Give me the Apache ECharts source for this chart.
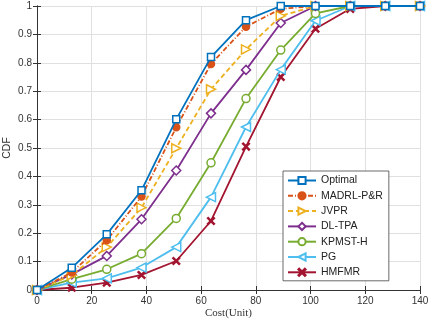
<!DOCTYPE html>
<html>
<head>
<meta charset="utf-8">
<script src="https://cdn.jsdelivr.net/npm/echarts@6/dist/echarts.min.js"></script>
<style>
html, body { margin: 0; padding: 0; background: #fff; }
#chart { width: 429px; height: 322px; }
</style>
</head>
<body>
<div id="chart"></div>
<script>
// cost points on the x axis
var costs = [0, 12.7, 25.5, 38.2, 50.9, 63.6, 76.4, 89.1, 101.8, 114.5, 127.3, 140];

// CDF values per method
var optimal = [0, 0.078, 0.196, 0.351, 0.601, 0.82, 0.95, 1, 1, 1, 1, 1];
var madrl   = [0, 0.062, 0.175, 0.329, 0.573, 0.796, 0.927, 0.99, 1, 1, 1, 1];
var jvpr    = [0, 0.052, 0.151, 0.29, 0.499, 0.707, 0.847, 0.965, 1, 1, 1, 1];
var dltpa   = [0, 0.055, 0.12, 0.249, 0.421, 0.622, 0.775, 0.94, 1, 1, 1, 1];
var kpmst   = [0, 0.038, 0.073, 0.128, 0.252, 0.448, 0.674, 0.845, 0.974, 1, 1, 1];
var pg      = [0, 0.026, 0.041, 0.079, 0.151, 0.327, 0.574, 0.776, 0.948, 1, 1, 1];
var hmfmr   = [0, 0.008, 0.026, 0.053, 0.102, 0.243, 0.505, 0.75, 0.92, 0.99, 1, 1];

var names = ['Optimal', 'MADRL-P&R', 'JVPR', 'DL-TPA', 'KPMST-H', 'PG', 'HMFMR'];
var values = [optimal, madrl, jvpr, dltpa, kpmst, pg, hmfmr];
var colors = ['#0072BD', '#D95319', '#EDB120', '#7E2F8E', '#77AC30', '#4DBEEE', '#A2142F'];

var crossPath = 'path://M0,1L1,0L5,4L9,0L10,1L6,5L10,9L9,10L5,6L1,10L0,9L4,5Z';
var styles = [
    { symbol: 'rect', size: 7, fill: '#fff', dash: 'solid', rotate: 0 },
    { symbol: 'circle', size: 7, fill: null, dash: [5, 2, 1, 2], rotate: 0 },
    { symbol: 'triangle', size: 9, fill: '#fff', dash: [5, 3], rotate: -90 },
    { symbol: 'diamond', size: 9, fill: '#fff', dash: 'solid', rotate: 0 },
    { symbol: 'circle', size: 8, fill: '#fff', dash: 'solid', rotate: 0 },
    { symbol: 'triangle', size: 9, fill: '#fff', dash: 'solid', rotate: 90 },
    { symbol: crossPath, size: 7, fill: null, dash: 'solid', rotate: 0 }
];

var font = 'Liberation Sans, Arial, sans-serif';

var series = [];
for (var i = 0; i < names.length; i++) {
    var pts = [];
    for (var j = 0; j < costs.length; j++) {
        pts.push([costs[j], values[i][j]]);
    }
    var st = styles[i];
    series.push({
        name: names[i],
        type: 'line',
        data: pts,
        symbol: st.symbol,
        symbolSize: st.size,
        symbolRotate: st.rotate,
        showAllSymbol: true,
        z: 10 - i,
        lineStyle: { color: colors[i], width: 1.8, type: st.dash },
        itemStyle: {
            color: st.fill || colors[i],
            borderColor: colors[i],
            borderWidth: 1.5
        },
        emphasis: { disabled: true }
    });
}

var chart = echarts.init(document.getElementById('chart'));
chart.setOption({
    animation: false,
    grid: { left: 37, right: 9, top: 6, bottom: 32, outerBoundsMode: 'none', containLabel: false },
    legend: {
        data: names,
        orient: 'vertical',
        left: 283,
        top: 171,
        width: 98,
        itemWidth: 28,
        itemHeight: 9,
        itemGap: 4.3,
        padding: [4, 6, 3, 4],
        backgroundColor: '#fff',
        borderColor: '#444',
        borderWidth: 0.8,
        textStyle: { fontFamily: font, fontSize: 10.5, color: '#222' }
    },
    xAxis: [{
        type: 'value',
        min: 0, max: 140, interval: 20,
        name: 'Cost(Unit)',
        nameLocation: 'middle',
        nameGap: 18,
        nameMoveOverlap: false,
        nameTextStyle: { fontFamily: 'Liberation Serif, serif', fontSize: 11, color: '#333' },
        axisLine: { lineStyle: { color: '#333', width: 1 } },
        axisTick: { inside: true, length: 4, lineStyle: { color: '#333' } },
        axisLabel: { fontFamily: font, fontSize: 10, color: '#333', margin: 6 },
        splitLine: { show: true, lineStyle: { color: '#e0e0e0', width: 1 } }
    }, {
        type: 'value', position: 'top',
        min: 0, max: 140, interval: 20,
        axisLine: { lineStyle: { color: '#333', width: 1 } },
        axisTick: { inside: true, length: 4, lineStyle: { color: '#333' } },
        axisLabel: { show: false },
        splitLine: { show: false }
    }],
    yAxis: [{
        type: 'value',
        min: 0, max: 1, interval: 0.1,
        name: 'CDF',
        nameLocation: 'middle',
        nameGap: 24,
        nameMoveOverlap: false,
        nameTextStyle: { fontFamily: font, fontSize: 10.5, color: '#333' },
        axisLine: { show: true, lineStyle: { color: '#333', width: 1 } },
        axisTick: { show: true, inside: true, length: 4, lineStyle: { color: '#333' } },
        axisLabel: { fontFamily: font, fontSize: 10, color: '#333', margin: 5 },
        splitLine: { show: true, lineStyle: { color: '#e0e0e0', width: 1 } }
    }, {
        type: 'value', position: 'right',
        min: 0, max: 1, interval: 0.1,
        axisLine: { show: true, lineStyle: { color: '#333', width: 1 } },
        axisTick: { show: true, inside: true, length: 4, lineStyle: { color: '#333' } },
        axisLabel: { show: false },
        splitLine: { show: false }
    }],
    series: series
});
</script>
</body>
</html>
